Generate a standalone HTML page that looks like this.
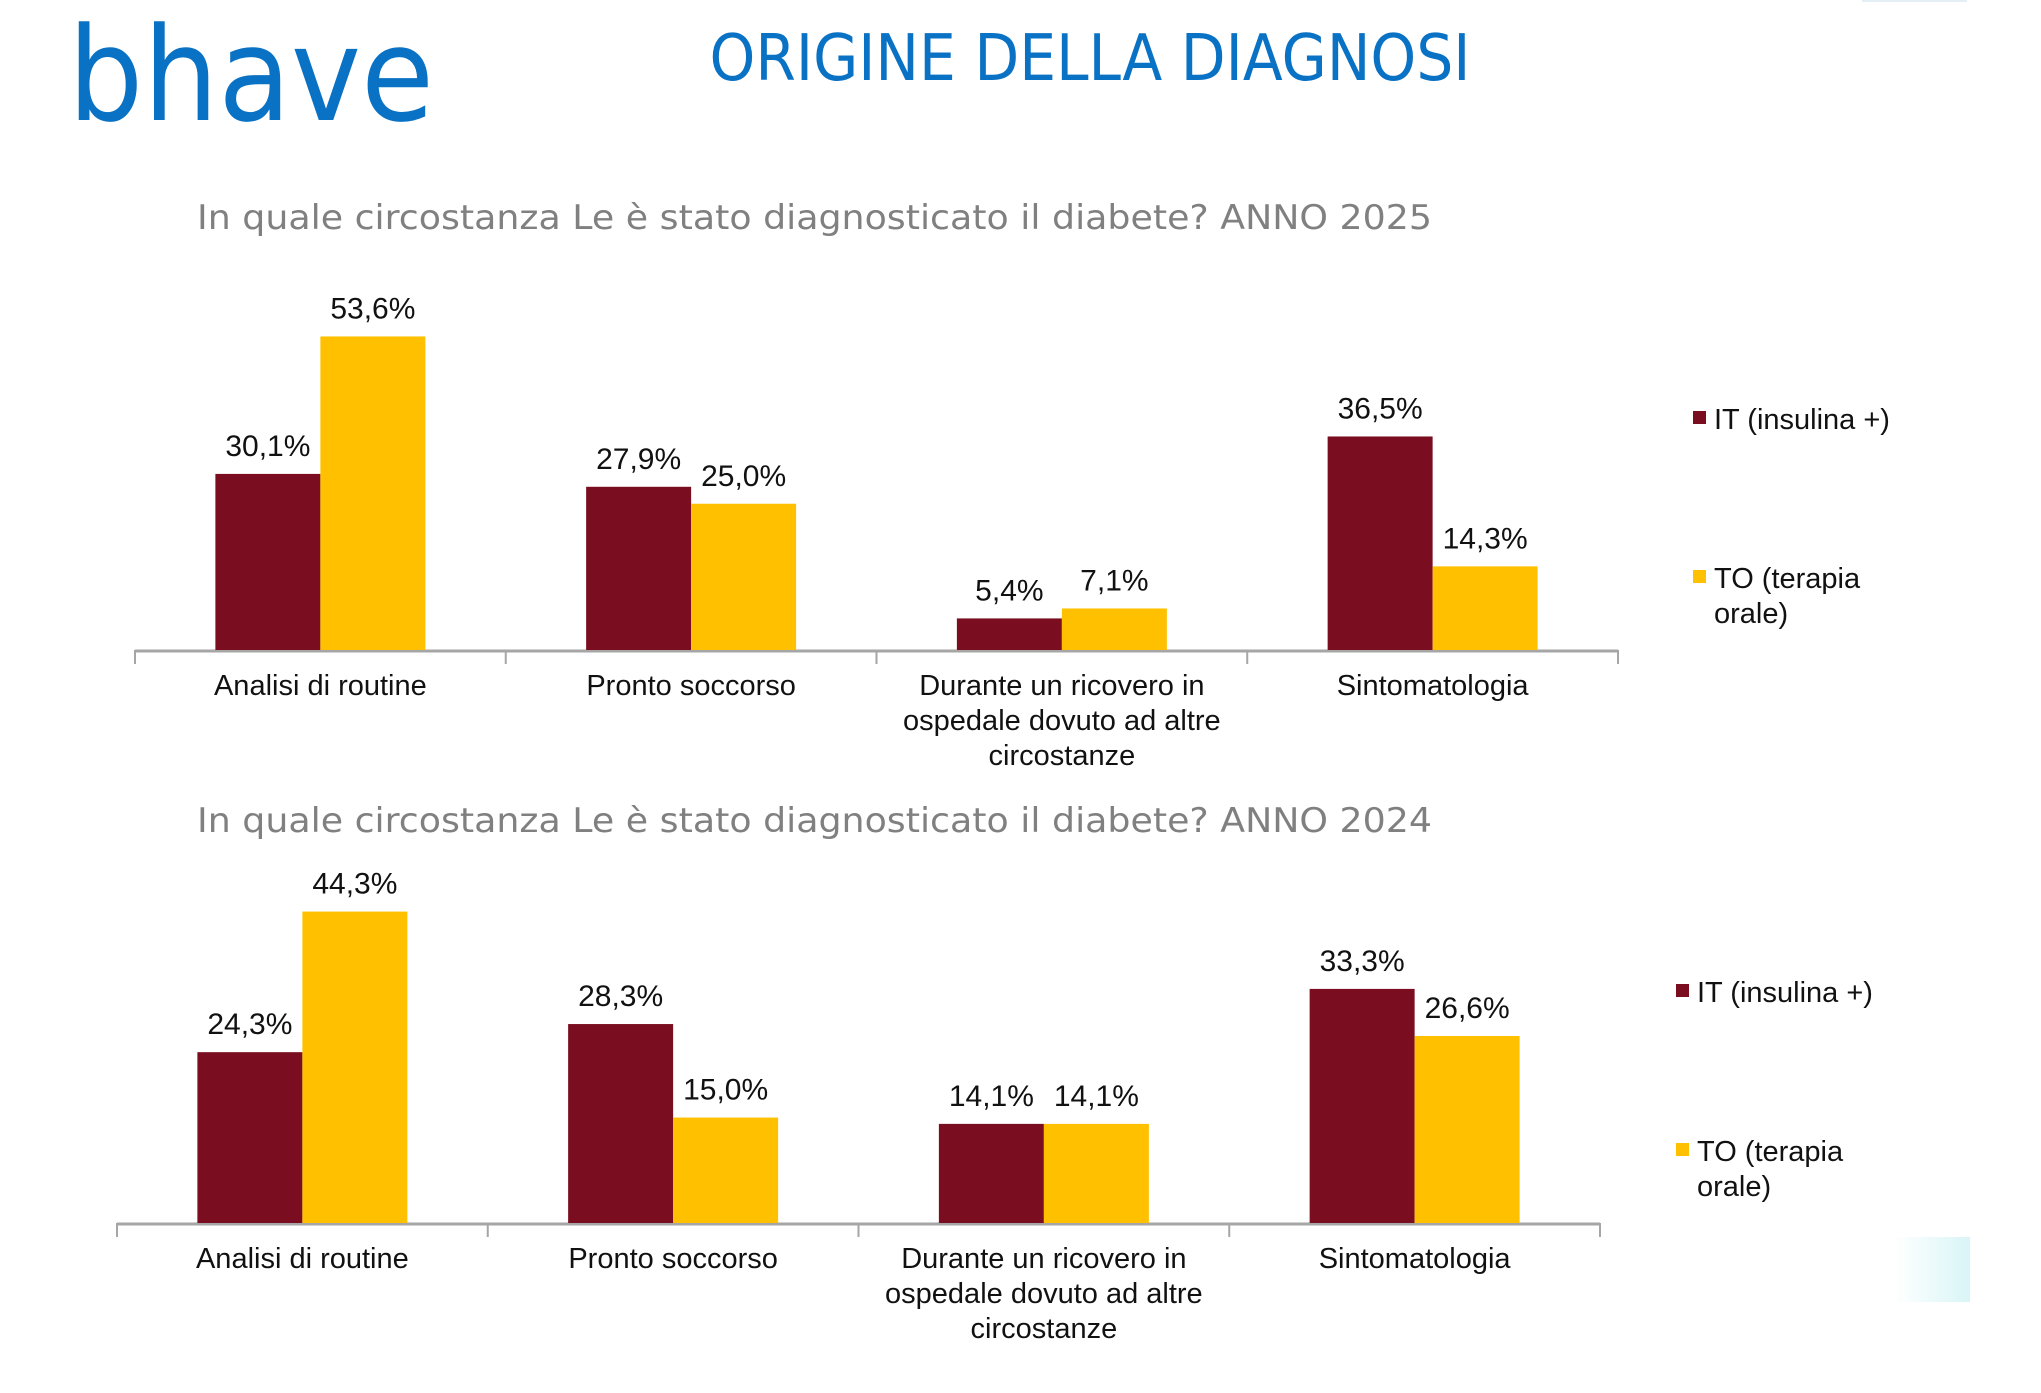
<!DOCTYPE html>
<html><head><meta charset="utf-8"><style>
html,body{margin:0;padding:0;background:#fff;}
body{width:2041px;height:1388px;position:relative;overflow:hidden;font-family:"Liberation Sans",sans-serif;}
</style></head><body>
<svg id="svg" width="2041" height="1388" viewBox="0 0 2041 1388" xmlns="http://www.w3.org/2000/svg">
  <text x="68" y="120" font-family="DejaVu Sans, sans-serif" font-size="130" fill="#0a72c4" textLength="366" lengthAdjust="spacingAndGlyphs">bhave</text>
  <text x="1090" y="80" text-anchor="middle" font-family="DejaVu Sans, sans-serif" font-size="64" fill="#0a72c4" textLength="761" lengthAdjust="spacingAndGlyphs">ORIGINE DELLA DIAGNOSI</text>
  <defs><linearGradient id="cy" x1="0" x2="1"><stop offset="0" stop-color="#fff"/><stop offset="1" stop-color="#d9f5f7"/></linearGradient></defs>
  <rect x="1894" y="1237" width="76" height="65" fill="url(#cy)"/>
  <rect x="1862" y="0" width="105" height="2" fill="#e3eef5"/>
  <g id="c1"></g>
  <g id="c2"></g>
</svg>
<script>
const categories = ["Analisi di routine","Pronto soccorso","Durante un ricovero in|ospedale dovuto ad altre|circostanze","Sintomatologia"];
const series = ["IT (insulina +)","TO (terapia orale)"];
const it2025 = [30.1, 27.9, 5.4, 36.5];
const to2025 = [53.6, 25.0, 7.1, 14.3];
const it2024 = [24.3, 28.3, 14.1, 33.3];
const to2024 = [44.3, 15.0, 14.1, 26.6];
const NS="http://www.w3.org/2000/svg";
function el(p,t,a){const e=document.createElementNS(NS,t);for(const k in a)e.setAttribute(k,a[k]);p.appendChild(e);return e;}
function fmt(v){return v.toFixed(1).replace('.',',')+'%';}
function drawChart(g,opt,itVals,toVals){
  const t=el(g,'text',{x:197,y:opt.titleY,'font-family':'DejaVu Sans, sans-serif','font-size':34,fill:'#808080',textLength:1235,lengthAdjust:'spacingAndGlyphs'});
  
  
  t.textContent=opt.title;
  const x0=opt.x0, cw=(opt.x1-opt.x0)/categories.length, bw=105;
  const yv=v=>opt.base - v*opt.scale;
  const ax=el(g,'line',{x1:x0,x2:opt.x1,y1:opt.base+1,y2:opt.base+1,stroke:'#a6a6a6','stroke-width':3});
  
  
  for(let i=0;i<=categories.length;i++){
    const tk=el(g,'line',{x1:x0+i*cw,x2:x0+i*cw,y1:opt.base,y2:opt.base+14,stroke:'#a6a6a6','stroke-width':2});
    
    
  }
  categories.forEach((c,i)=>{
    const cx=x0+cw*(i+0.5);
    [[itVals[i],'#7a0e20',cx-bw,'it'],[toVals[i],'#ffc000',cx,'to']].forEach(([v,col,bx,s])=>{
      const r=el(g,'rect',{x:bx,y:yv(v),width:bw,height:opt.base-yv(v),fill:col});
      
      
      const l=el(g,'text',{x:bx+bw/2,y:yv(v)-18,'text-anchor':'middle','font-size':30,fill:'#111'});
      
      
      l.textContent=fmt(v);
    });
    c.split('|').forEach((ln,j)=>{
      const ct=el(g,'text',{x:cx,y:opt.base+45+j*35,'text-anchor':'middle','font-size':29,fill:'#111'});
      
      
      ct.textContent=ln;
    });
  });
  const lg=[[series[0],'#7a0e20',opt.legY1,null],['TO (terapia','#ffc000',opt.legY2,'orale)']];
  lg.forEach(([txt,col,y,l2],k)=>{
    const sq=el(g,'rect',{x:opt.legX,y:y-8,width:13,height:13,fill:col});
    
    
    const lt=el(g,'text',{x:opt.legX+21,y:y+10,'font-size':29,fill:'#111'});
    
    
    lt.textContent=txt;
    if(l2){const l2t=el(g,'text',{x:opt.legX+21,y:y+45,'font-size':29,fill:'#111'});
      
      
      l2t.textContent=l2;}
  });
}
drawChart(document.getElementById('c1'),{title:"In quale circostanza Le è stato diagnosticato il diabete? ANNO 2025",titleY:229,x0:135,x1:1618,base:650,scale:5.85,legX:1693,legY1:419,legY2:578},it2025,to2025);
drawChart(document.getElementById('c2'),{title:"In quale circostanza Le è stato diagnosticato il diabete? ANNO 2024",titleY:832,x0:117,x1:1600,base:1223,scale:7.03,legX:1676,legY1:992,legY2:1151},it2024,to2024);
</script>
</body></html>
